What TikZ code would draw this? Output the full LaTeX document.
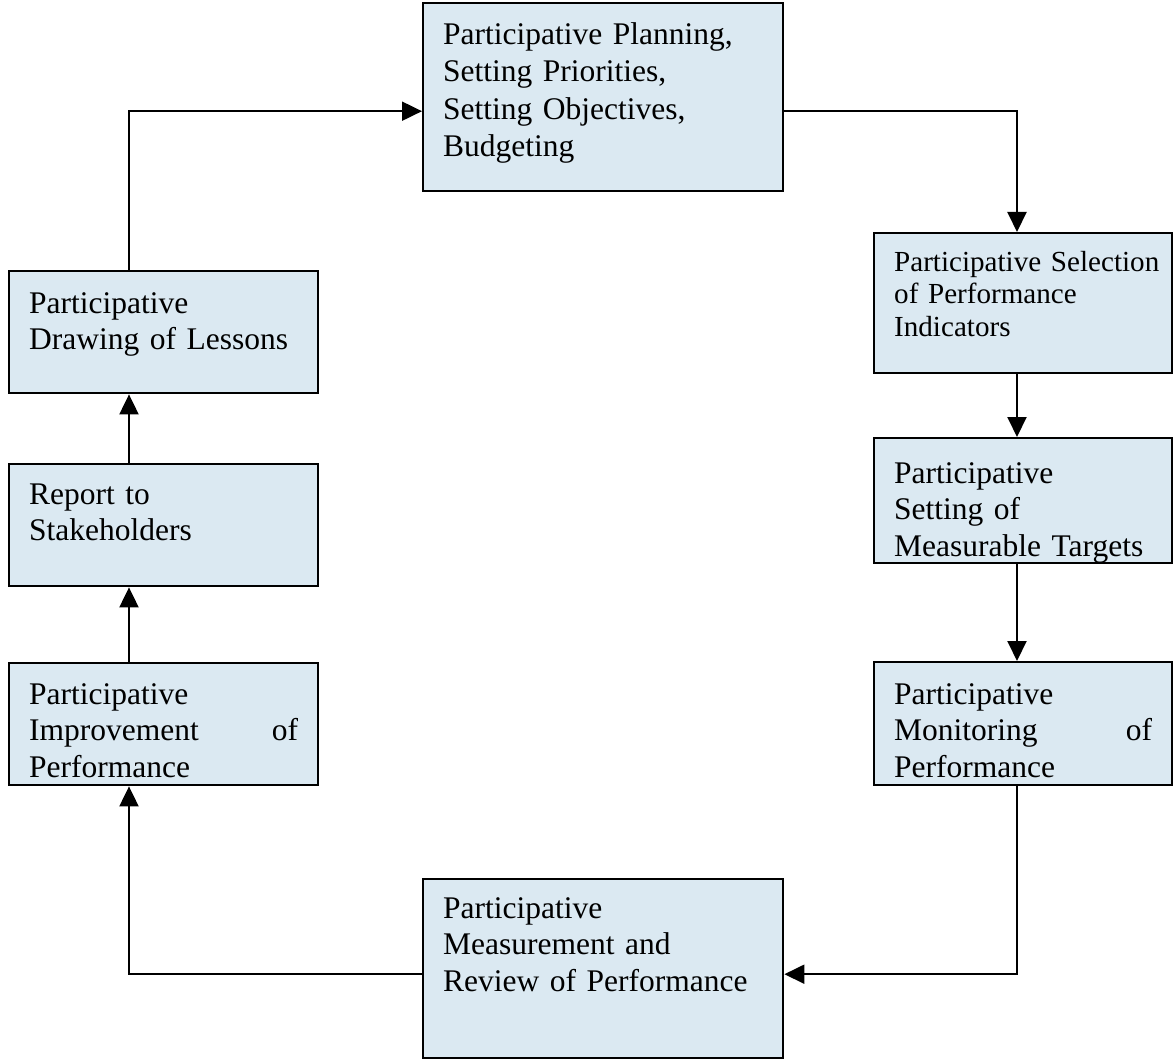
\documentclass[tikz,border=0pt]{standalone}
\usepackage{fontspec}
\setmainfont{Liberation Serif}
\usetikzlibrary{arrows.meta}
\definecolor{boxblue}{RGB}{219,233,242}

\begin{document}
\begin{tikzpicture}[x=0.5pt,y=-0.5pt,
	stepbox/.style={draw,line width=1.2pt,fill=boxblue,anchor=north west,inner xsep=10pt,inner ysep=0pt,align=left,font=\fontsize{15.75pt}{18.3pt}\selectfont},
	boxsize/.style n args={3}{text width=#1,text height=#2,text depth=#3},
	flow/.style={-{Triangle[length=10pt,width=9.5pt]},line width=1pt}]

	\useasboundingbox (0,0) rectangle (1173,1059);
	\coordinate (leftrail) at (129,0);
	\coordinate (rightrail) at (1017,0);

	\node[stepbox,boxsize={160pt}{20.5pt}{73.5pt},font=\fontsize{15.75pt}{18.8pt}\selectfont] (plan) at (422,2) {Participative Planning,\\Setting Priorities,\\Setting Objectives,\\Budgeting};
	\node[stepbox,boxsize={129pt}{19pt}{51pt},font=\fontsize{14.55pt}{16.3pt}\selectfont] (select) at (873,232) {\mbox{Participative Selection}\\of Performance\\Indicators};
	\node[stepbox,boxsize={129pt}{22.5pt}{40pt}] (target) at (873,437) {Participative\\Setting of\\Measurable Targets};
	\node[stepbox,boxsize={129pt}{21pt}{40.5pt}] (monitor) at (873,661) {Participative\\Monitoring\hfill of\\Performance};
	\node[stepbox,boxsize={160pt}{19.5pt}{70pt}] (measure) at (422,878) {Participative\\Measurement and\\Review of Performance};
	\node[stepbox,boxsize={134.5pt}{20.5pt}{40.5pt}] (improve) at (8,662) {Participative\\Improvement\hfill of\\Performance};
	\node[stepbox,boxsize={134.5pt}{20pt}{41pt}] (report) at (8,463) {Report to\\Stakeholders};
	\node[stepbox,boxsize={134.5pt}{21pt}{40pt}] (lessons) at (8,270) {Participative\\Drawing of Lessons};

	\draw[flow] (lessons.north -| leftrail) |- ([yshift=-7pt]plan.west);
	\draw[flow] ([yshift=-7pt]plan.east) -| (select.north -| rightrail);
	\draw[flow] (select.south -| rightrail) -- (target.north -| rightrail);
	\draw[flow] (target.south -| rightrail) -- (monitor.north -| rightrail);
	\draw[flow] (monitor.south -| rightrail) |- ([yshift=-2.75pt]measure.east);
	\draw[flow] ([yshift=-2.75pt]measure.west) -| (improve.south -| leftrail);
	\draw[flow] (improve.north -| leftrail) -- (report.south -| leftrail);
	\draw[flow] (report.north -| leftrail) -- (lessons.south -| leftrail);

\end{tikzpicture}
\end{document}
